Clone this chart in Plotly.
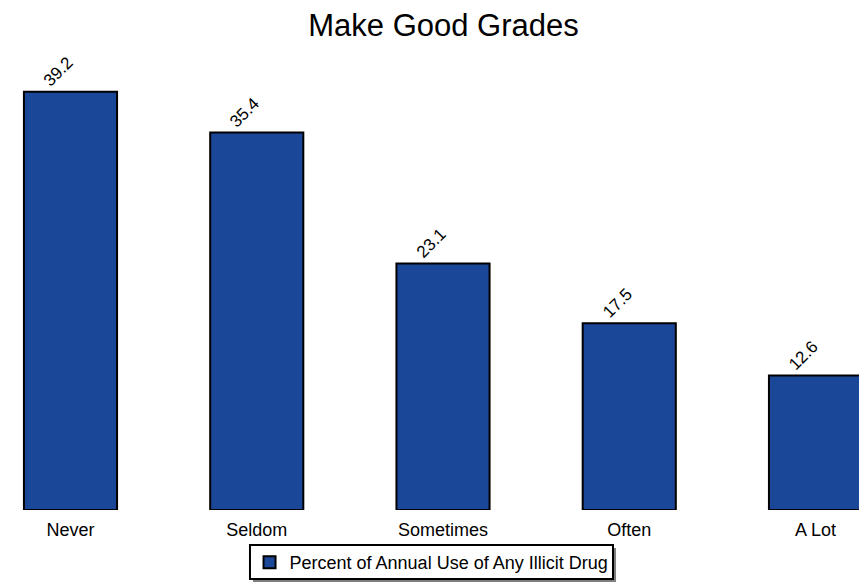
import plotly.graph_objects as go

categories = ["Never", "Seldom", "Sometimes", "Often", "A Lot"]
values = [39.2, 35.4, 23.1, 17.5, 12.6]
labels = ["39.2", "35.4", "23.1", "17.5", "12.6"]
series_name = "Percent of Annual Use of Any Illicit Drug"

W, H = 867, 587
ml, mr, mt, mb = 0, 0, 54, 85
FONT = "Arial, Liberation Sans, sans-serif"

fig = go.Figure()
fig.add_trace(go.Bar(
    x=list(range(len(categories))), y=values, name=series_name,
    marker=dict(color="#1B4799", line=dict(color="#000000", width=2)),
    width=0.5, showlegend=True,
))

for i, (v, t) in enumerate(zip(values, labels)):
    fig.add_annotation(x=i, y=v, text=t, showarrow=False, textangle=-45,
                       xshift=-12, yshift=20,
                       font=dict(family=FONT, size=17, color="#000"))

# legend drop shadow and frame
fig.add_shape(type="rect", xref="paper", yref="paper",
              x0=0.2826, x1=0.7013, y0=-0.1607, y1=-0.0848,
              fillcolor="#7f7f7f", line=dict(width=0), layer="above")
fig.add_shape(type="rect", xref="paper", yref="paper",
              x0=0.2791, x1=0.6978, y0=-0.1540, y1=-0.0781,
              fillcolor="white", line=dict(color="#000", width=2), layer="above")

fig.update_layout(
    width=W, height=H,
    margin=dict(l=ml, r=mr, t=mt, b=mb),
    paper_bgcolor="white", plot_bgcolor="white",
    title=dict(text="Make Good Grades", x=0.5023, xanchor="center", y=0.971, yanchor="middle",
               font=dict(family=FONT, size=31, color="#000")),
    font=dict(family=FONT, color="#000"),
    xaxis=dict(range=[-0.33557, 4.31946], tickmode="array",
               tickvals=list(range(len(categories))), ticktext=categories,
               showgrid=False, zeroline=False, showline=False, ticks="",
               ticklabelstandoff=7,
               tickfont=dict(family=FONT, size=18, color="#000")),
    yaxis=dict(range=[0, 42], visible=False, showgrid=False, zeroline=False),
    showlegend=True,
    legend=dict(orientation="h", x=0.4885, xanchor="center", y=-0.0759, yanchor="top",
                borderwidth=0, bgcolor="rgba(0,0,0,0)",
                font=dict(family=FONT, size=18, color="#000")),
)
fig.write_html("out.html")
